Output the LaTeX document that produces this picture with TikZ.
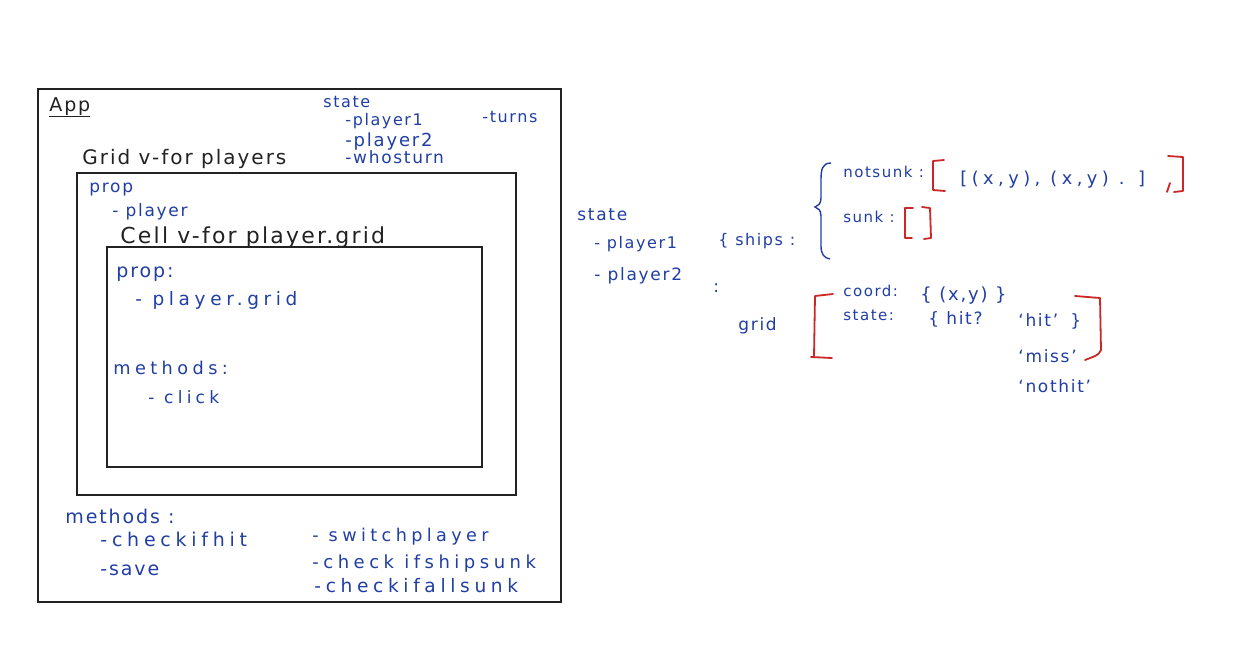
\documentclass[tikz,border=0pt]{standalone}
\usepackage{fontspec}
\setmainfont{DejaVu Sans}[LetterSpace=10]
\newfontfamily\widehand{DejaVu Sans}[LetterSpace=25]
\usetikzlibrary{positioning}
\definecolor{ink}{RGB}{34,34,34}
\definecolor{pen}{RGB}{32,62,165}
\definecolor{redpen}{RGB}{205,38,38}
\newcommand{\fs}[1]{\fontsize{#1}{#1}\selectfont}

\begin{document}
\begin{tikzpicture}[x=1pt, y=-1pt, thick,
    main/.style = {draw=ink, rectangle, anchor=north west, inner sep=0pt, line width=1.5pt},
    txt/.style = {text=pen, anchor=base west, inner sep=0pt, font=\fs{17}},
    wide/.style = {txt, font=\widehand\fs{#1}},
    big/.style = {text=ink, anchor=base west, inner sep=0pt, font=\fs{21}},
    brk/.style = {draw=redpen, line width=1.8pt, line cap=round, line join=round}]
    \useasboundingbox[fill=white] (0,0) rectangle (1237,667);

    % boxes: App > Grid > Cell
    \node[main, line width=2.4pt, minimum width=523pt, minimum height=513pt] (1) at (37,88) {};
    \node[main, minimum width=439pt, minimum height=322pt] (2) at (76,172) {};
    \node[main, minimum width=375pt, minimum height=220pt] (3) at (106,246) {};

    \node[big, font=\fs{19}] (4) at (49,111) {\underline{App}};
    \node[big, font=\fs{20}] (5) at (82,164) {Grid v-for players};
    \node[big, font=\fs{22}] (6) at (120,243) {Cell v-for player.grid};

    % App state
    \node[txt, font=\fs{16}] (7) at (323,107) {state};
    \node[txt, font=\fs{16}] (8) at (345,125) {-player1};
    \node[txt, font=\fs{18}] (9) [below=21pt of 8.base west, anchor=base west] {-player2};
    \node[txt] (10) [below=17pt of 9.base west, anchor=base west] {-whosturn};
    \node[txt, font=\fs{16}] (11) at (482,122) {-turns};

    % Grid prop
    \node[txt] (12) at (89,192) {prop};
    \node[txt] (13) at (112,216) {- player};

    % Cell prop + methods
    \node[txt, font=\fs{19}] (14) at (116,277) {prop:};
    \node[wide=18.5] (15) at (135,305) {- player.grid};
    \node[wide=17.7] (16) at (113,374) {methods:};
    \node[wide=17] (17) at (148,403) {- click};

    % App methods
    \node[txt, font=\fs{19}] (18) at (65,523) {methods :};
    \node[wide=19] (19) at (100,546) {-checkifhit};
    \node[txt, font=\fs{19}] (20) [below=29pt of 19.base west, anchor=base west] {-save};
    \node[wide=17.6] (21) at (312,541) {- switchplayer};
    \node[wide=18] (22) [below=27pt of 21.base west, anchor=base west] {-check ifshipsunk};
    \node[wide=18.6] (23) at (314,592) {-checkifallsunk};

    % state shape on the right
    \node[txt] (24) at (577,220) {state};
    \node[txt, font=\fs{16}] (25) at (594,248) {- player1};
    \node[txt] (26) [below=32pt of 25.base west, anchor=base west] {- player2};
    \node[txt, font=\fs{16}] (27) at (718,245) {\{ ships :};
    \node[txt, font=\fs{15}] (28) at (843,177) {notsunk :};
    \node[wide=17.8] (29) at (960,184) {[(x,y), (x,y) . ]};
    \node[txt, font=\fs{15}] (30) at (843,222) {sunk :};
    \node[txt] (31) at (713,292) {:};
    \node[txt] (32) at (738,330) {grid};
    \node[txt, font=\fs{15}] (33) at (843,296) {coord:};
    \node[txt, font=\fs{18}] (34) at (920,300) {\{ (x,y) \}};
    \node[txt, font=\fs{15}] (35) at (843,320) {state:};
    \node[txt] (36) at (928,324) {\{ hit?};
    \node[txt] (37) at (1018,326) {`hit'};
    \node[txt] (38) at (1070,326) {\}};
    \node[txt] (39) [below=36pt of 37.base west, anchor=base west] {`miss'};
    \node[txt] (40) [below=30pt of 39.base west, anchor=base west] {`nothit'};

    % ships brace
    \draw[pen, line width=1.4pt] (831,163) .. controls (822,163) and (821,170) .. (821,180) -- (821,198)
        .. controls (821,204) and (818,206) .. (815,207) .. controls (818,208) and (821,210) .. (821,216)
        -- (821,246) .. controls (821,254) and (824,258) .. (830,259);

    % red brackets
    \draw[brk] (944,160) -- (933,161) -- (933,190) -- (945,191);
    \draw[brk] (1168,156) -- (1183,157) -- (1183,191) -- (1174,192);
    \draw[brk] (1170,183) -- (1167,192);
    \draw[brk] (913,208) -- (905,208) -- (905,238) -- (912,238);
    \draw[brk] (922,207) -- (930,208) -- (931,238) -- (924,239);
    \draw[brk] (833,294) -- (815,296) -- (814,357);
    \draw[brk] (811,357) -- (832,358);
    \draw[brk] (1075,296) -- (1100,298) -- (1101,350) .. controls (1099,356) and (1092,357) .. (1085,360);
\end{tikzpicture}
\end{document}
